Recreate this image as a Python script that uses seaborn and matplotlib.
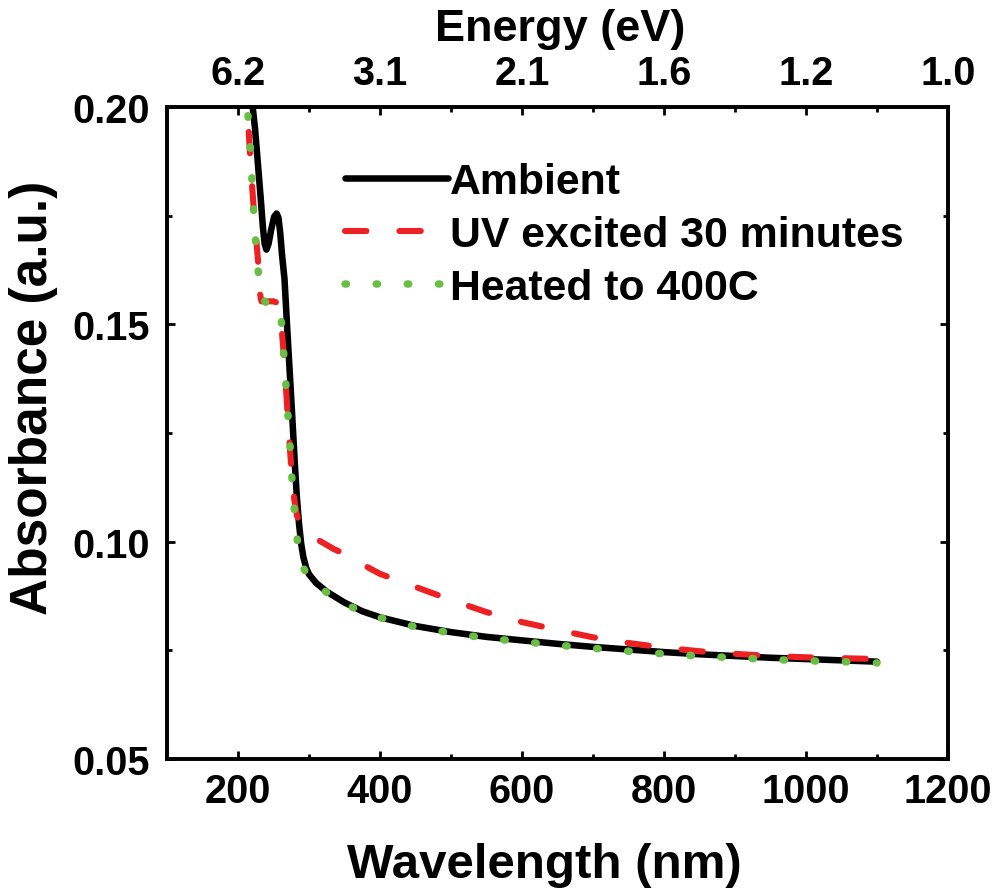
import matplotlib
matplotlib.use("Agg")
import matplotlib.pyplot as plt
import seaborn as sns
import numpy as np
import pandas as pd
from matplotlib.ticker import MultipleLocator, FixedLocator

# ---------------- data ----------------
amb_wl = [220, 224, 228, 232, 235, 237.5, 240, 243, 247, 251, 254.5, 257, 259.5, 262,
          265.5, 269, 272.5, 276, 280, 283, 286, 289, 292, 296, 300, 310, 325, 350,
          375, 400, 450, 500, 550, 600, 650, 700, 750, 800, 850, 900, 950, 1000, 1050, 1100]
amb_abs = [0.2010, 0.1950, 0.1870, 0.1790, 0.1725, 0.1685, 0.1672, 0.1685, 0.1720, 0.1748,
           0.1755, 0.1745, 0.1710, 0.1660, 0.1604, 0.1500, 0.1400, 0.1300, 0.1180, 0.1100,
           0.1040, 0.0995, 0.0965, 0.0940, 0.0925, 0.0905, 0.0885, 0.0860, 0.0840, 0.0826,
           0.0806, 0.0792, 0.0781, 0.0773, 0.0765, 0.0758, 0.0752, 0.0746, 0.0741, 0.0737,
           0.0733, 0.0730, 0.0727, 0.0724]

uv_wl = [214, 218, 222, 226, 229, 231, 233, 240, 250, 255, 258, 262, 265, 268.5, 272,
         276, 279, 283, 288, 295, 305, 315, 335, 350, 375, 400, 450, 500, 550, 600, 650,
         700, 750, 800, 850, 900, 950, 1000, 1050, 1100]
uv_abs = [0.1975, 0.1860, 0.1770, 0.1690, 0.1630, 0.1570, 0.1553, 0.1553, 0.1553, 0.1550,
          0.1530, 0.1480, 0.1420, 0.1330, 0.1240, 0.1150, 0.1100, 0.1060, 0.1040, 0.1025,
          0.1012, 0.1002, 0.0983, 0.0972, 0.0948, 0.0926, 0.0896, 0.0866, 0.0838, 0.0815,
          0.0797, 0.0780, 0.0767, 0.0756, 0.0748, 0.0742, 0.0737, 0.0734, 0.0732, 0.0730]

heat_wl = [214, 218, 220, 222.5, 226, 230, 235, 245, 255, 260, 263, 266.5, 269.5, 273,
           275.5, 279, 283, 287, 292, 297, 310, 325, 350, 375, 400, 450, 500, 550, 600,
           650, 700, 750, 800, 850, 900, 950, 1000, 1050, 1100]
heat_abs = [0.1980, 0.1890, 0.1820, 0.1745, 0.1665, 0.1595, 0.1560, 0.1537, 0.1537, 0.1530,
            0.1465, 0.1385, 0.1310, 0.1230, 0.1155, 0.1080, 0.1010, 0.0965, 0.0940, 0.0925,
            0.0903, 0.0883, 0.0858, 0.0838, 0.0825, 0.0804, 0.0790, 0.0778, 0.0770, 0.0762,
            0.0755, 0.0748, 0.0742, 0.0737, 0.0733, 0.0729, 0.0726, 0.0724, 0.0721]

labels = ["Ambient", "UV excited 30 minutes", "Heated to 400C"]
colors = ["#000000", "#ED2024", "#6ABE45"]

x_ticks = [200, 400, 600, 800, 1000, 1200]
top_labels = ["6.2", "3.1", "2.1", "1.6", "1.2", "1.0"]
y_ticks = [0.05, 0.10, 0.15, 0.20]

# ---------------- style ----------------
sns.set_theme(style="ticks")
plt.rcParams["font.family"] = ["Liberation Sans", "DejaVu Sans"]
plt.rcParams["font.weight"] = "bold"
plt.rcParams["axes.labelweight"] = "bold"
for k in ["text.color", "axes.labelcolor", "xtick.color", "ytick.color",
          "axes.edgecolor"]:
    plt.rcParams[k] = "black"

fig = plt.figure(figsize=(10.03, 8.95), dpi=100)
ax = fig.add_axes([0.1665, 0.1508, 0.7787, 0.7285])

red_dash = (3.5, 5.4)
sns.lineplot(x=amb_wl, y=amb_abs, ax=ax, color=colors[0], linewidth=4.7,
             label=labels[0], sort=False, solid_capstyle="round", zorder=3)
sns.lineplot(x=uv_wl, y=uv_abs, ax=ax, color=colors[1], linewidth=4.4,
             label=labels[1], sort=False, linestyle=(6.6, red_dash),
             dash_capstyle="round", zorder=4)
sns.lineplot(x=heat_wl, y=heat_abs, ax=ax, color=colors[2], linewidth=5.4,
             label=labels[2], sort=False, linestyle=(0, (0.2, 3.95)),
             dash_capstyle="round", zorder=5)

ax.set_xlim(100, 1200)
ax.set_ylim(0.05, 0.20)
ax.xaxis.set_major_locator(FixedLocator(x_ticks))
ax.xaxis.set_minor_locator(MultipleLocator(100))
ax.yaxis.set_major_locator(FixedLocator(y_ticks))
ax.yaxis.set_minor_locator(MultipleLocator(0.025))
ax.set_yticklabels([f"{v:.2f}" for v in y_ticks])

for sp in ax.spines.values():
    sp.set_visible(True)
    sp.set_linewidth(2.6)
    sp.set_color("black")

ax.tick_params(axis="both", which="major", direction="in", length=6, width=2.0,
               labelsize=28.5, colors="black", right=True)
ax.tick_params(axis="both", which="minor", direction="in", length=3.5, width=2.0,
               right=True, colors="black")
ax.tick_params(axis="x", which="major", pad=9)
ax.tick_params(axis="y", which="major", pad=12)

ax.set_xlabel("Wavelength (nm)", fontsize=35.5, fontweight="bold", va="center",
              color="black")
ax.set_ylabel("Absorbance (a.u.)", fontsize=37, fontweight="bold", va="center",
              color="black")
ax.xaxis.set_label_coords(0.483, -0.161)
ax.yaxis.set_label_coords(-0.171, 0.555)

# top axis: photon energy
ax2 = ax.twiny()
ax2.set_xlim(ax.get_xlim())
ax2.xaxis.set_major_locator(FixedLocator(x_ticks))
ax2.xaxis.set_minor_locator(MultipleLocator(100))
ax2.set_xticklabels(top_labels)
ax2.tick_params(axis="x", which="major", direction="in", length=6, width=2.0,
                labelsize=28.5, pad=11, colors="black")
ax2.tick_params(axis="x", which="minor", direction="in", length=3.5, width=2.0,
                colors="black")
ax2.set_xlabel("Energy (eV)", fontsize=32.5, fontweight="bold", va="center",
               color="black")
ax2.xaxis.set_label_coords(0.503, 1.12)
for sp in ax2.spines.values():
    sp.set_linewidth(2.6)
    sp.set_color("black")
ax2.grid(False)
ax.grid(False)

leg = ax.legend(loc="upper left", bbox_to_anchor=(0.228, 0.915), frameon=False,
                fontsize=30.8, handlelength=2.4, handletextpad=0.05,
                labelspacing=0.3, borderpad=0, borderaxespad=0)
for t in leg.get_texts():
    t.set_fontweight("bold")
    t.set_color("black")
leg.legend_handles[1].set_linestyle((0, red_dash))

fig.savefig("out.png", dpi=100)
